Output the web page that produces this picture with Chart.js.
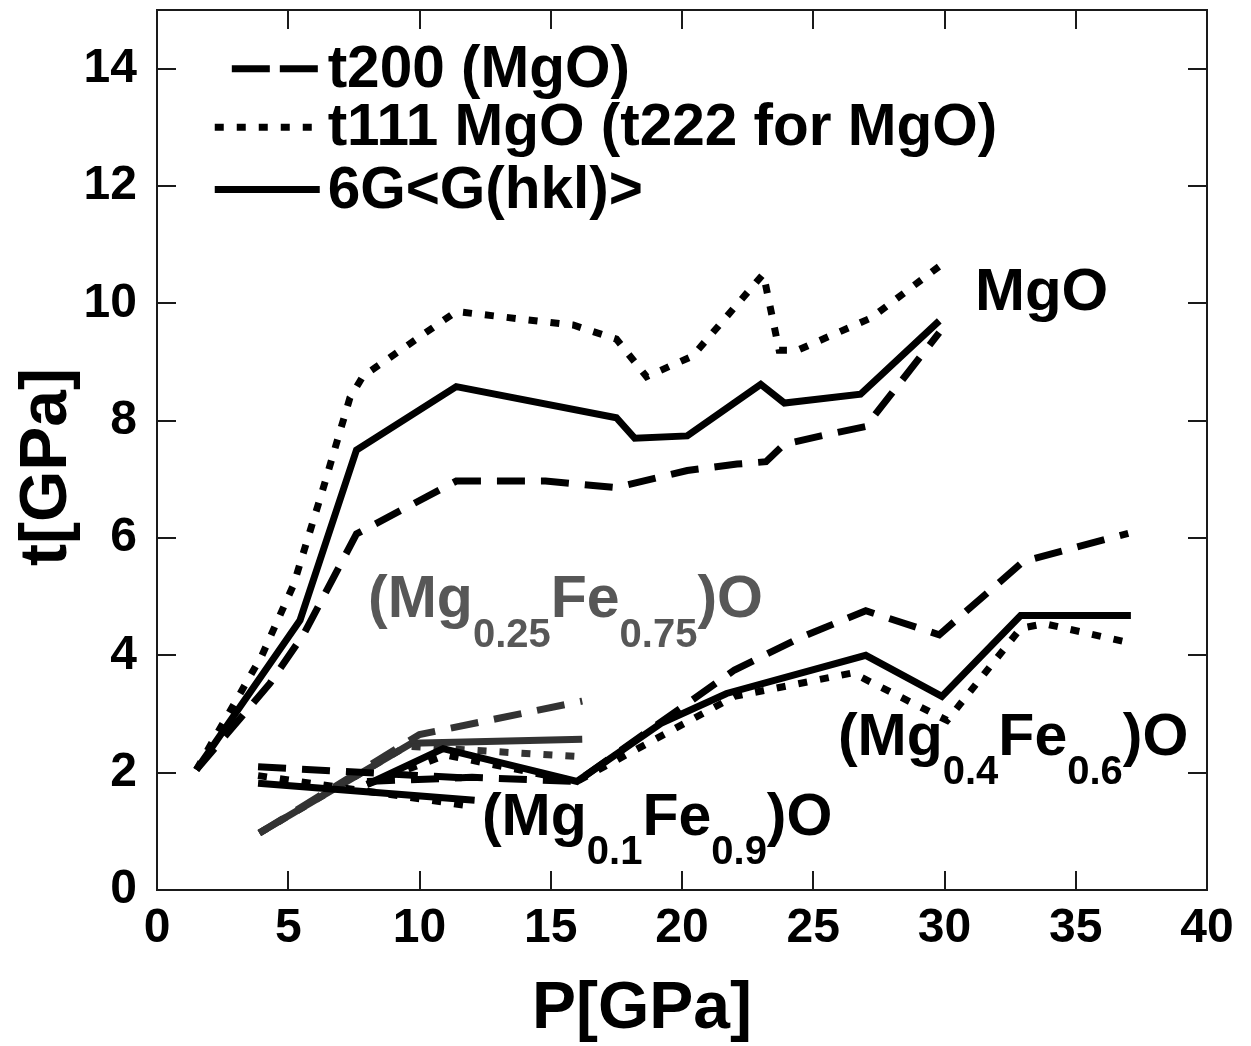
<!DOCTYPE html>
<html>
<head>
<meta charset="utf-8">
<script src="https://cdn.jsdelivr.net/npm/chart.js@4.4.1/dist/chart.umd.min.js"></script>
<style>
  html, body { margin: 0; padding: 0; background: #fff; }
  #wrap { width: 1251px; height: 1046px; position: relative; }
</style>
</head>
<body>
<div id="wrap"><canvas id="c" width="1251" height="1046"></canvas></div>
<script>
// ---------------- DATA ----------------
// MgO
const mgoT200P = [1.5, 4.3, 5.6, 7.6, 11.4, 14.8, 17.5, 20.2, 22.1, 23.2, 23.9, 25.6, 27.0, 29.8];
const mgoT200T = [2.05, 3.52, 4.37, 6.07, 6.97, 6.97, 6.86, 7.15, 7.26, 7.3, 7.6, 7.77, 7.9, 9.5];
const mgoT111P = [1.5, 4.0, 5.2, 6.3, 7.35, 7.85, 11.4, 15.85, 17.5, 18.65, 20.4, 23.1, 23.7, 24.4, 27.2, 29.8];
const mgoT111T = [2.05, 4.0, 5.2, 6.8, 8.39, 8.76, 9.86, 9.63, 9.39, 8.75, 9.1, 10.5, 9.2, 9.2, 9.75, 10.63];
const mgoGP = [1.5, 5.45, 7.6, 11.4, 17.5, 18.2, 20.2, 23.0, 23.9, 26.8, 29.8];
const mgoGT = [2.05, 4.6, 7.5, 8.58, 8.05, 7.7, 7.74, 8.62, 8.3, 8.45, 9.7];
// (Mg0.25Fe0.75)O
const fe75T200P = [3.9, 10.0, 16.2];
const fe75T200T = [0.97, 2.65, 3.22];
const fe75T111P = [3.9, 9.5, 16.2];
const fe75T111T = [0.97, 2.45, 2.27];
const fe75GP = [3.9, 9.7, 16.2];
const fe75GT = [0.97, 2.5, 2.57];
// (Mg0.1Fe0.9)O
const fe90T200P = [3.85, 12.1];
const fe90T200T = [2.1, 1.9];
const fe90T111P = [3.85, 12.1];
const fe90T111T = [1.95, 1.42];
const fe90GP = [3.85, 12.1];
const fe90GT = [1.82, 1.53];
// (Mg0.4Fe0.6)O
const fe60T200P = [8.0, 12.0, 16.0, 22.0, 24.5, 27.0, 29.8, 33.0, 37.0];
const fe60T200T = [1.85, 1.92, 1.85, 3.75, 4.3, 4.76, 4.35, 5.6, 6.08];
const fe60T111P = [8.0, 11.0, 16.0, 22.0, 26.5, 30.1, 32.9, 33.8, 37.0];
const fe60T111T = [1.8, 2.3, 1.85, 3.3, 3.7, 2.89, 4.46, 4.54, 4.22];
const fe60GP = [8.0, 10.9, 16.0, 19.2, 21.7, 27.0, 29.9, 32.9, 37.1];
const fe60GT = [1.8, 2.41, 1.85, 2.84, 3.35, 4.0, 3.3, 4.68, 4.68];

const legendLabels = ['t200 (MgO)', 't111 MgO (t222 for MgO)', '6G<G(hkl)>'];
const xTickValues = [0, 5, 10, 15, 20, 25, 30, 35, 40];
const yTickValues = [0, 2, 4, 6, 8, 10, 12, 14];
const xTitle = 'P[GPa]';
const yTitle = 't[GPa]';
const labelMgO = [['MgO', false]];
const labelFe75 = [['(Mg', false], ['0.25', true], ['Fe', false], ['0.75', true], [')O', false]];
const labelFe60 = [['(Mg', false], ['0.4', true], ['Fe', false], ['0.6', true], [')O', false]];
const labelFe90 = [['(Mg', false], ['0.1', true], ['Fe', false], ['0.9', true], [')O', false]];

// ---------------- STYLE ----------------
const FONT = '"Liberation Sans", Arial, Helvetica, sans-serif';
const BLACK = '#000000';
const GRAY = '#333333';
const GRAYTEXT = '#575757';
const DASH = [28, 16];
const DOT = [9, 13];
const LW = 7;

function zip(p, t) { return p.map((v, i) => ({ x: v, y: t[i] })); }
function ds(p, t, color, dash) {
  return {
    data: zip(p, t), borderColor: color, backgroundColor: color,
    borderWidth: LW, borderDash: dash, borderCapStyle: 'butt', borderJoinStyle: 'miter',
    pointRadius: 0, pointHoverRadius: 0, tension: 0, fill: false
  };
}

const datasets = [
  ds(mgoT200P, mgoT200T, BLACK, DASH),
  ds(mgoT111P, mgoT111T, BLACK, DOT),
  ds(mgoGP, mgoGT, BLACK, []),
  ds(fe90T200P, fe90T200T, BLACK, DASH),
  ds(fe90T111P, fe90T111T, BLACK, DOT),
  ds(fe90GP, fe90GT, BLACK, []),
  ds(fe60T200P, fe60T200T, BLACK, DASH),
  ds(fe60T111P, fe60T111T, BLACK, DOT),
  ds(fe60GP, fe60GT, BLACK, []),
  ds(fe75T200P, fe75T200T, GRAY, DASH),
  ds(fe75T111P, fe75T111T, GRAY, DOT),
  ds(fe75GP, fe75GT, GRAY, []),
];

function drawParts(ctx, x, y, parts, color, big, small, subDy) {
  ctx.save();
  ctx.fillStyle = color;
  ctx.textBaseline = 'middle';
  ctx.textAlign = 'left';
  let cx = x;
  for (const [txt, sub] of parts) {
    ctx.font = 'bold ' + (sub ? small : big) + 'px ' + FONT;
    ctx.fillText(txt, cx, sub ? y + subDy : y);
    cx += ctx.measureText(txt).width;
  }
  ctx.restore();
}

const framePlugin = {
  id: 'frameAndText',
  afterDatasetsDraw(chart) {
    const { ctx, chartArea: a, scales: { x, y } } = chart;
    ctx.save();
    ctx.strokeStyle = '#1a1a1a';
    ctx.lineWidth = 2;
    ctx.setLineDash([]);
    ctx.strokeRect(a.left, a.top, a.right - a.left, a.bottom - a.top);
    const tl = 19;
    ctx.beginPath();
    xTickValues.forEach(v => {
      const px = Math.round(x.getPixelForValue(v));
      if (v === xTickValues[0] || v === xTickValues[xTickValues.length - 1]) return;
      ctx.moveTo(px, a.bottom); ctx.lineTo(px, a.bottom - tl);
      ctx.moveTo(px, a.top); ctx.lineTo(px, a.top + tl);
    });
    yTickValues.forEach(v => {
      const py = Math.round(y.getPixelForValue(v));
      if (v === 0) return;
      ctx.moveTo(a.left, py); ctx.lineTo(a.left + tl, py);
      ctx.moveTo(a.right, py); ctx.lineTo(a.right - tl, py);
    });
    ctx.stroke();

    // axis titles
    ctx.fillStyle = '#000';
    ctx.font = 'bold 66px ' + FONT;
    ctx.textAlign = 'center';
    ctx.textBaseline = 'middle';
    ctx.fillText(xTitle, 642, 1010);
    ctx.save();
    ctx.translate(48, 467);
    ctx.rotate(-Math.PI / 2);
    ctx.fillText(yTitle, 0, 0);
    ctx.restore();

    // legend (styles from the first three datasets)
    const rows = [14.0, 13.0, 11.94];
    const lx0 = x.getPixelForValue(2.2), lx1 = x.getPixelForValue(6.2);
    const textX = x.getPixelForValue(6.5);
    rows.forEach((tv, i) => {
      const d = chart.data.datasets[i];
      const py = y.getPixelForValue(tv);
      ctx.strokeStyle = d.borderColor;
      ctx.lineWidth = LW;
      ctx.lineCap = 'butt';
      let sx = lx0;
      if (i === 0) { ctx.setLineDash([38, 10]); sx = x.getPixelForValue(2.85); }
      else ctx.setLineDash(d.borderDash || []);
      ctx.beginPath();
      ctx.moveTo(sx, py); ctx.lineTo(lx1, py);
      ctx.stroke();
      ctx.setLineDash([]);
      ctx.fillStyle = '#000';
      ctx.font = 'bold 58.5px ' + FONT;
      ctx.textBaseline = 'middle';
      ctx.textAlign = 'left';
      ctx.fillText(legendLabels[i], textX, py + 2);
    });

    drawParts(ctx, x.getPixelForValue(31.16), y.getPixelForValue(10.17), labelMgO, '#000', 60, 40, 34);
    drawParts(ctx, x.getPixelForValue(8.04), y.getPixelForValue(4.93), labelFe75, GRAYTEXT, 59, 40, 35);
    drawParts(ctx, x.getPixelForValue(25.94), y.getPixelForValue(2.585), labelFe60, '#000', 59, 40, 35);
    drawParts(ctx, x.getPixelForValue(12.38), y.getPixelForValue(1.22), labelFe90, '#000', 59, 40, 35);
    ctx.restore();
  }
};

new Chart(document.getElementById('c'), {
  type: 'line',
  data: { datasets },
  options: {
    responsive: false,
    animation: false,
    events: [],
    layout: { padding: { top: 10, right: 44, left: 0, bottom: 0 } },
    plugins: { legend: { display: false }, tooltip: { enabled: false }, title: { display: false } },
    scales: {
      x: {
        type: 'linear', min: 0, max: 40,
        afterFit(s) { s.height = 156; s.paddingLeft = 0; s.paddingRight = 0; },
        afterBuildTicks(s) { s.ticks = xTickValues.map(v => ({ value: v })); },
        grid: { display: false, drawTicks: false },
        border: { display: false },
        ticks: { color: '#000', padding: 10, maxRotation: 0, autoSkip: false,
                 font: { family: FONT, size: 48, weight: 'bold' } },
        title: { display: false }
      },
      y: {
        type: 'linear', min: 0, max: 15,
        afterFit(s) { s.width = 157; s.paddingTop = 0; s.paddingBottom = 0; },
        afterBuildTicks(s) { s.ticks = yTickValues.map(v => ({ value: v })); },
        grid: { display: false, drawTicks: false },
        border: { display: false },
        ticks: { color: '#000', padding: 20, autoSkip: false,
                 font: { family: FONT, size: 48, weight: 'bold' } },
        title: { display: false }
      }
    }
  },
  plugins: [framePlugin]
});
</script>
</body>
</html>
